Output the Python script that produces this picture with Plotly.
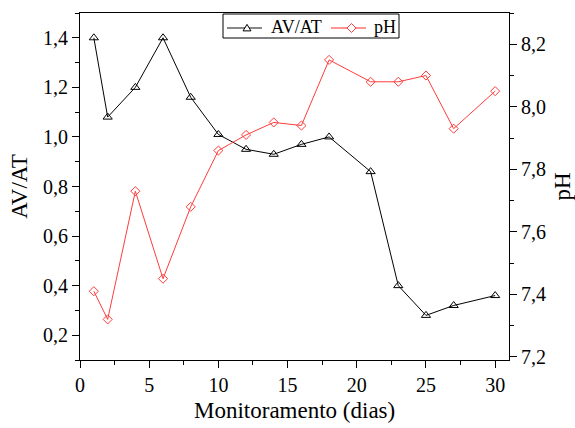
import plotly.graph_objects as go

days = [1, 2, 4, 6, 8, 10, 12, 14, 16, 18, 21, 23, 25, 27, 30]
av_at = [1.40, 1.08, 1.20, 1.40, 1.16, 1.01, 0.95, 0.93, 0.97, 1.00, 0.86, 0.40, 0.28, 0.32, 0.36]
ph = [7.41, 7.32, 7.73, 7.45, 7.68, 7.86, 7.91, 7.95, 7.94, 8.15, 8.08, 8.08, 8.10, 7.93, 8.05]
series_names = ["AV/AT", "pH"]
x_title = "Monitoramento (dias)"

FONT = "Liberation Serif"
RED = "#FF3C3C"

W, H = 575, 428
ML, MR, MT, MB = 80, 66, 13, 68
PW, PH = W - ML - MR, H - MT - MB


def px(x):
    return (x - ML) / PW


def py(y):
    return (H - MB - y) / PH


fig = go.Figure()
fig.add_trace(go.Scatter(
    x=days, y=av_at, name=series_names[0], mode="lines+markers", showlegend=False,
    line=dict(color="black", width=1),
    marker=dict(symbol="triangle-up-open", size=8, color="black", line=dict(width=1)),
))
fig.add_trace(go.Scatter(
    x=days, y=ph, name=series_names[1], mode="lines+markers", yaxis="y2", showlegend=False,
    line=dict(color=RED, width=1),
    marker=dict(symbol="diamond-open", size=7, color=RED, line=dict(width=1)),
))

axis_common = dict(
    showgrid=False, zeroline=False, showline=True, linecolor="black", linewidth=1,
    ticks="outside", ticklen=7, tickwidth=1, tickcolor="black", automargin=False,
    tickfont=dict(family=FONT, size=20, color="black"),
)
minor_common = dict(ticks="outside", ticklen=4, tickcolor="black", tickwidth=1)
TITLE_SIZE = 23

# hand-built legend box (matches the reference's compact legend)
shapes = [
    dict(type="rect", xref="paper", yref="paper", x0=px(223), x1=px(399), y0=py(38), y1=py(14),
         line=dict(color="black", width=1), fillcolor="white", layer="above"),
    dict(type="line", xref="paper", yref="paper", x0=px(227), x1=px(262), y0=py(28), y1=py(28),
         line=dict(color="#606060", width=1.5), layer="above"),
    dict(type="line", xref="paper", yref="paper", x0=px(331), x1=px(366), y0=py(28), y1=py(28),
         line=dict(color="#FF7070", width=1.5), layer="above"),
]
cx, cy, r = 247, 28, 3.6
tri = "M{},{} L{},{} L{},{} Z".format(
    px(cx), py(cy - r), px(cx - r * 1.1), py(cy + r * 0.8), px(cx + r * 1.1), py(cy + r * 0.8))
shapes.append(dict(type="path", xref="paper", yref="paper", path=tri,
                   line=dict(color="black", width=1), fillcolor="white", layer="above"))
cx, cy, r = 351.5, 28, 4.5
dia = "M{},{} L{},{} L{},{} L{},{} Z".format(
    px(cx), py(cy - r), px(cx + r), py(cy), px(cx), py(cy + r), px(cx - r), py(cy))
shapes.append(dict(type="path", xref="paper", yref="paper", path=dia,
                   line=dict(color=RED, width=1), fillcolor="white", layer="above"))

annotations = [
    dict(text=series_names[0], xref="paper", yref="paper", x=px(269), y=py(27),
         xanchor="left", yanchor="middle", showarrow=False,
         font=dict(family=FONT, size=18, color="black")),
    dict(text=series_names[1], xref="paper", yref="paper", x=px(372), y=py(27),
         xanchor="left", yanchor="middle", showarrow=False,
         font=dict(family=FONT, size=18, color="black")),
    dict(text=x_title, xref="paper", yref="paper", x=0.5, y=py(411),
         xanchor="center", yanchor="middle", showarrow=False,
         font=dict(family=FONT, size=TITLE_SIZE, color="black")),
]

fig.update_layout(
    width=W, height=H,
    margin=dict(l=ML, r=MR, t=MT, b=MB),
    paper_bgcolor="white", plot_bgcolor="white",
    separators=",.",
    font=dict(family=FONT, color="black"),
    showlegend=False,
    shapes=shapes,
    annotations=annotations,
    xaxis=dict(
        **axis_common, range=[0, 31], tickmode="array", tickvals=[0, 5, 10, 15, 20, 25, 30],
        mirror=True,
        minor=dict(tickmode="array", tickvals=[2.5, 7.5, 12.5, 17.5, 22.5, 27.5], **minor_common),
    ),
    yaxis=dict(
        **axis_common, range=[0.1, 1.5], tickmode="array",
        tickvals=[0.2, 0.4, 0.6, 0.8, 1.0, 1.2, 1.4], tickformat=".1f",
        minor=dict(tickmode="array", tickvals=[0.1, 0.3, 0.5, 0.7, 0.9, 1.1, 1.3, 1.5], **minor_common),
        title=dict(text="AV/AT", font=dict(family=FONT, size=TITLE_SIZE), standoff=8),
    ),
    yaxis2=dict(
        **axis_common, overlaying="y", side="right", range=[7.19, 8.30], tickmode="array",
        tickvals=[7.2, 7.4, 7.6, 7.8, 8.0, 8.2], tickformat=".1f",
        minor=dict(tickmode="array", tickvals=[7.3, 7.5, 7.7, 7.9, 8.1, 8.3], **minor_common),
        title=dict(text="pH", font=dict(family=FONT, size=TITLE_SIZE), standoff=8),
    ),
)

fig.write_html("out.html")
